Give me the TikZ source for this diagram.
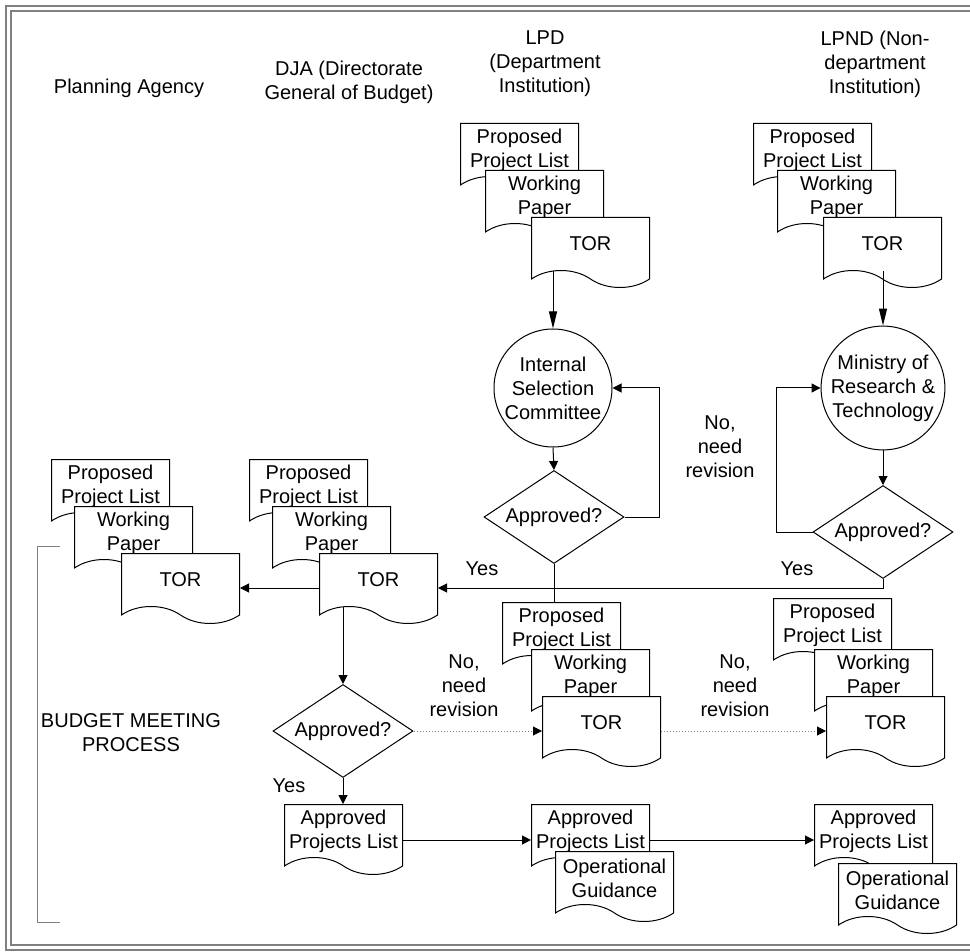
\documentclass[tikz,border=0pt]{standalone}
\usepackage{fontspec}
\setmainfont{Liberation Sans}
\usepackage{tikz}
\usetikzlibrary{arrows.meta, positioning, shapes.geometric, shapes.symbols}

\tikzset{
    doc/.style={shape=tape, tape bend top=none, tape bend bottom=out and in, tape bend height=8.5pt,
        draw, fill=white, line width=0.5pt, minimum width=59pt, minimum height=35pt,
        inner sep=1pt, align=center, anchor=north west},
    decision/.style={shape=diamond, draw, fill=white, line width=0.5pt, aspect=1.5,
        minimum width=70pt, minimum height=46.5pt, inner sep=0pt},
    process/.style={shape=circle, draw, fill=white, line width=0.5pt, minimum size=59pt,
        inner sep=0pt, align=center},
    head/.style={align=center},
    arr/.style={line width=0.5pt, -{Triangle[length=4.5pt,width=4.5pt]}},
    longarr/.style={line width=0.5pt, -{Triangle[length=8.5pt,width=4pt]}},
    line/.style={line width=0.5pt},
    revise/.style={gray, densely dotted, line width=0.5pt, -{Triangle[length=4.5pt,width=4.5pt,color=black]}}
}

\begin{document}
\begin{tikzpicture}[x=0.5pt, y=-0.5pt, font=\fontsize{10}{12}\selectfont]
        \useasboundingbox (0,0) rectangle (970,952);

        % 外框
        \draw[gray, line width=1pt] (970,6) -- (6,6) -- (6,950) -- (970,950);
        \draw[gray, line width=1pt] (970,11) -- (11,11) -- (11,945) -- (970,945);

        % 各栏标题
        \node[head] (hpa) at (129,88) {Planning Agency};
        \node[head] (hdja) at (349,82) {DJA (Directorate\\General of Budget)};
        \node[head] (hlpd) at (545,64) {LPD\\(Department\\Institution)};
        \node[head] (hlpnd) at (875,64) {LPND (Non-\\department\\Institution)};

        % LPD 提交的文件
        \node[doc] (ppla) at (460,123) {Proposed\\Project List};
        \node[doc] (wpa) at (485,170) {Working\\Paper};
        \node[doc] (tora) at (531,217) {TOR};

        % LPND 提交的文件
        \node[doc] (pplb) at (753,123) {Proposed\\Project List};
        \node[doc] (wpb) at (777,170) {Working\\Paper};
        \node[doc] (torb) at (823,217) {TOR};

        % 审查
        \node[process] (isc) at (553,388) {Internal\\Selection\\Committee};
        \node[process] (mrt) at (883,388) {Ministry of\\Research \&\\Technology};
        \node[decision] (oka) at (554,517) {Approved?};
        \node[decision] (okb) at (883,532) {Approved?};

        % Planning Agency 与 DJA 的文件
        \node[doc] (pplc) at (51,459) {Proposed\\Project List};
        \node[doc] (wpc) at (74,506) {Working\\Paper};
        \node[doc] (torc) at (121,553) {TOR};
        \node[doc] (ppld) at (249,459) {Proposed\\Project List};
        \node[doc] (wpd) at (272,506) {Working\\Paper};
        \node[doc] (tord) at (319,553) {TOR};

        % 退回修改的文件
        \node[doc] (pple) at (502,602) {Proposed\\Project List};
        \node[doc] (wpe) at (531,649) {Working\\Paper};
        \node[doc] (tore) at (542,696) {TOR};
        \node[doc] (pplf) at (773,598) {Proposed\\Project List};
        \node[doc] (wpf) at (814,649) {Working\\Paper};
        \node[doc] (torf) at (826,696) {TOR};

        % 预算会议
        \node[decision] (okc) at (343,731) {Approved?};
        \node[doc] (apla) at (284,804) {Approved\\Projects List};
        \node[doc] (aplb) at (531,804) {Approved\\Projects List};
        \node[doc] (oga) at (555,851) {Operational\\Guidance};
        \node[doc] (aplc) at (814,804) {Approved\\Projects List};
        \node[doc] (ogb) at (838,863) {Operational\\Guidance};

        % 连线
        \draw[longarr] (isc.north |- tora.south) -- (isc.north);
        \draw[longarr] (mrt.north |- torb.south) -- (mrt.north);
        \draw[arr] (isc.south) -- (oka.north);
        \draw[arr] (mrt.south) -- (okb.north);
        \draw[arr] (oka.east) -- ++(35,0) |- (isc.east);
        \draw[arr] (okb.west) -- ++(-36,0) |- (mrt.west);
        \draw[arr] (okb.south) |- ([yshift=-4pt]tord.east);
        \draw[line] (oka.south) -- (oka.south |- pple.north);
        \draw[arr] ([yshift=-4pt]tord.west) -- ([yshift=-4pt]torc.east);
        \draw[arr] (okc.north |- tord.south) -- (okc.north);
        \draw[arr] (okc.south) -- (okc.south |- apla.north);
        \draw[revise] (okc.east) -- (okc.east -| tore.west);
        \draw[revise] (okc.east -| tore.east) -- (okc.east -| torf.west);
        \draw[arr] ([yshift=-4.5pt]apla.east) -- ([yshift=-4.5pt]aplb.west);
        \draw[arr] ([yshift=-4.5pt]aplb.east) -- ([yshift=-4.5pt]aplc.west);

        % 标注
        \node (yesa) at (482,569) {Yes};
        \node (yesb) at (797,569) {Yes};
        \node (yesc) at (289,786) {Yes};
        \node[head] (noa) at (720,447) {No,\\need\\revision};
        \node[head] (nob) at (464,686) {No,\\need\\revision};
        \node[head] (noc) at (735,686) {No,\\need\\revision};

        % 预算会议过程
        \draw[gray, line width=0.5pt] (60,546) -- (37,546) -- (37,922) -- (60,922);
        \node[head] (bmp) at (131,733) {BUDGET MEETING\\PROCESS};
    \end{tikzpicture}
\end{document}
